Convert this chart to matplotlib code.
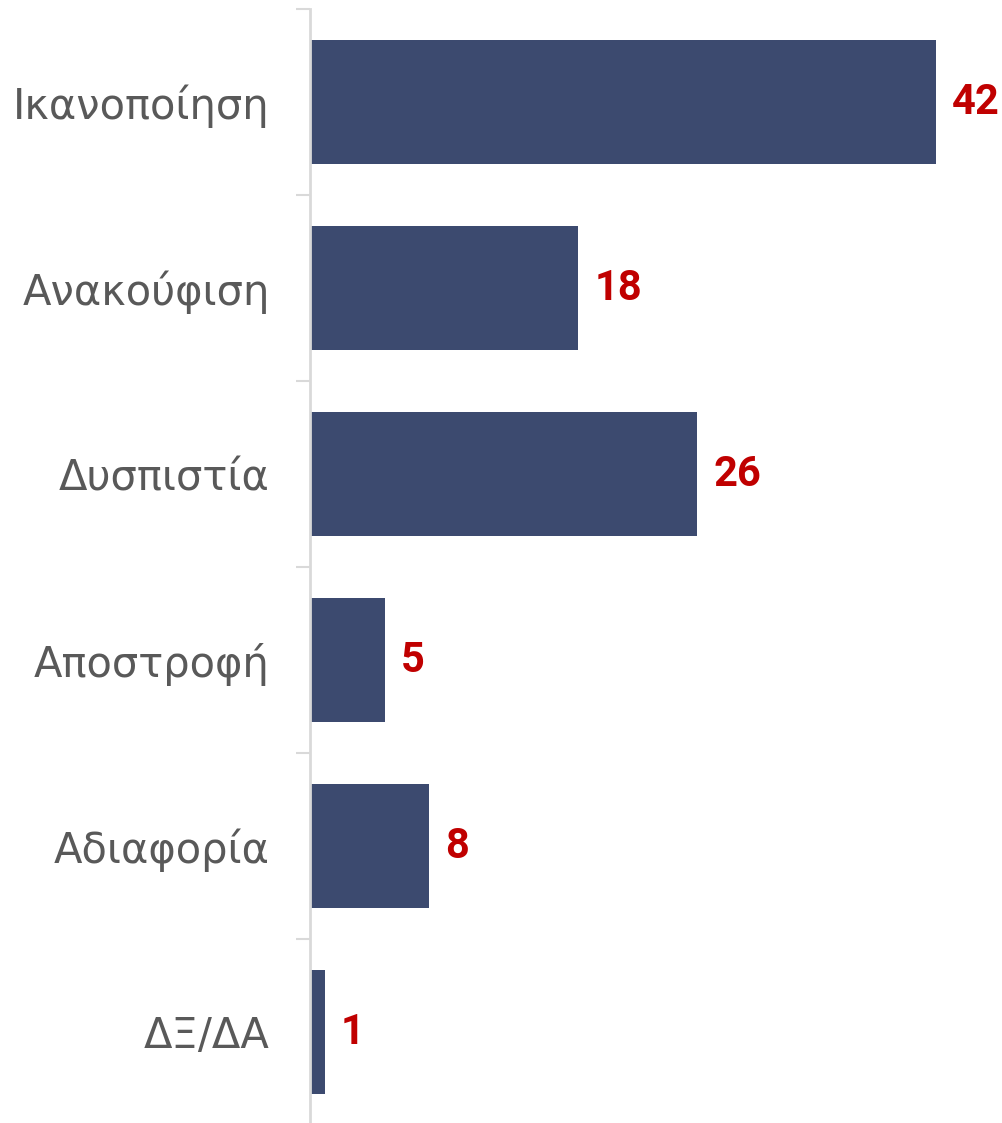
import matplotlib.pyplot as plt

categories = ['Ικανοποίηση', 'Ανακούφιση', 'Δυσπιστία', 'Αποστροφή', 'Αδιαφορία', 'ΔΞ/ΔΑ']
values = [42, 18, 26, 5, 8, 1]

bar_color = '#3C4A6F'
label_color = '#C00000'
grid_color = '#D9D9D9'

fig = plt.figure(figsize=(10.02, 11.23), dpi=100)
# axes: x from 310px to 1002px, y from 9px (top) to 1125px
ax = fig.add_axes([310 / 1002, (1123 - 1125) / 1123, 692 / 1002, 1116 / 1123])

y = list(range(len(categories)))
ax.barh(y, values, height=0.67, color=bar_color)
ax.set_ylim(len(categories) - 0.5, -0.5)
ax.set_xlim(0, 692 / 14.9)

for yi, v in zip(y, values):
    ax.annotate(str(v), (v, yi), xytext=(16, 0), textcoords='offset pixels',
                va='center', ha='left', fontsize=30, fontweight='bold',
                color=label_color, family='Roboto')

ax.set_yticks(y)
ax.set_yticklabels(categories, fontsize=30, color='#595959', family='DejaVu Sans')
ax.tick_params(axis='y', length=0, pad=29)
ax.set_yticks([i - 0.5 for i in range(len(categories) + 1)], minor=True)
ax.tick_params(axis='y', which='minor', length=10, width=1.5, color=grid_color)
ax.set_xticks([])

for s in ['top', 'right', 'bottom']:
    ax.spines[s].set_visible(False)
ax.spines['left'].set_color(grid_color)
ax.spines['left'].set_linewidth(2)

fig.savefig('out.png', dpi=100)
